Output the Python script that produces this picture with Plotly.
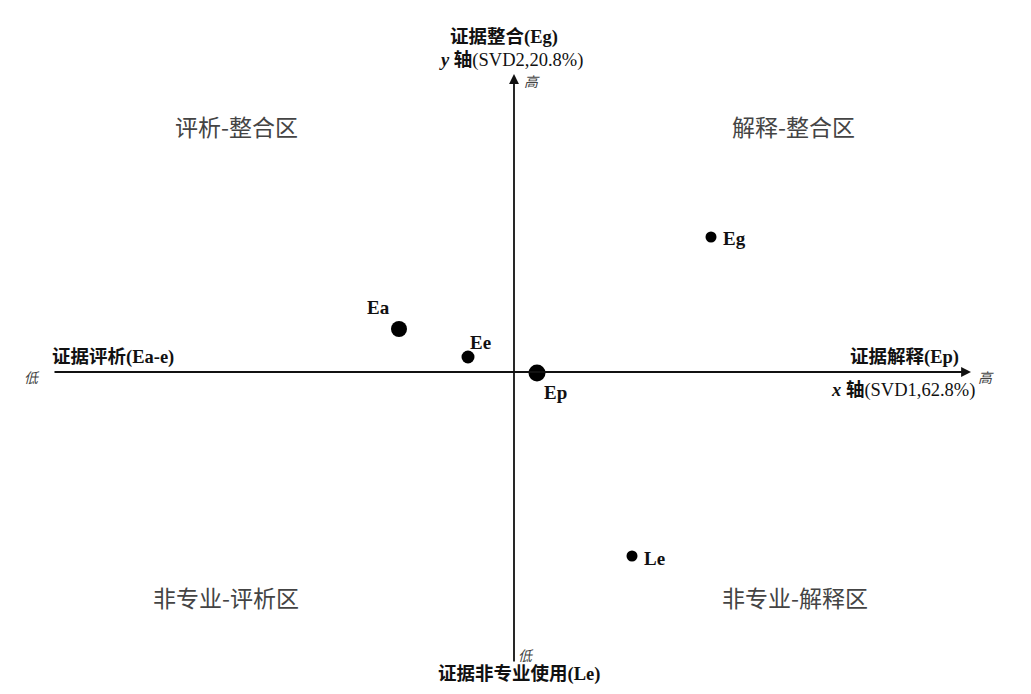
import plotly.graph_objects as go

# point scores (axis units, origin at the crossing of the two axes)
names = ["Ea", "Ee", "Ep", "Eg", "Le"]
svd1 = [-1.15, -0.46, 0.23, 1.97, 1.18]
svd2 = [0.43, 0.15, -0.01, 1.35, -1.84]
dot_sizes = [16, 13, 17, 11, 11]

quadrants = ["评析-整合区", "解释-整合区", "非专业-评析区", "非专业-解释区"]
quad_x = [-2.78, 2.79, -2.88, 2.81]
quad_y = [2.46, 2.46, -2.25, -2.25]

SERIF = "Liberation Serif, Times New Roman, Noto Sans CJK SC"
SANS = "Noto Sans CJK SC, Noto Sans"


# page pixel -> axis units (page has an 8px body offset)
def X(px):
    return (px - 514) / 100.0


def Y(py):
    return (372 - py) / 100.0


fig = go.Figure()

fig.add_trace(go.Scatter(
    x=svd1, y=svd2, mode="markers",
    marker=dict(size=dot_sizes, color="black", opacity=1, line=dict(width=0)),
    hoverinfo="text", text=names, showlegend=False,
))

# point labels: offsets in pixels
label_off = {"Ea": (-21, 22), "Ee": (12, 15), "Ep": (18, -19), "Eg": (23, -1), "Le": (22, -2)}
for n, x, y in zip(names, svd1, svd2):
    dx, dy = label_off[n]
    fig.add_annotation(x=x, y=y, text="<b>" + n + "</b>", showarrow=False,
                       xshift=dx, yshift=dy,
                       font=dict(family=SERIF, size=19, color="#111111"))

for t, x, y in zip(quadrants, quad_x, quad_y):
    fig.add_annotation(x=x, y=y, text=t, showarrow=False,
                       font=dict(family=SANS, size=23, color="#444444"))

# axes with arrows
fig.add_annotation(x=X(971), y=0, ax=X(53), ay=0, xref="x", yref="y", axref="x", ayref="y",
                   showarrow=True, arrowhead=2, arrowsize=1.1, arrowwidth=1.8, arrowcolor="#111111", text="")
fig.add_annotation(x=0, y=Y(74), ax=0, ay=Y(663), xref="x", yref="y", axref="x", ayref="y",
                   showarrow=True, arrowhead=2, arrowsize=1.1, arrowwidth=1.8, arrowcolor="#111111", text="")

# axis captions
cap = dict(family=SERIF, size=18.5, color="#111111")
small = dict(family=SANS, size=14, color="#444444")
fig.add_annotation(x=X(504), y=Y(37), text="<b>证据整合(Eg)</b>", showarrow=False, font=cap)
fig.add_annotation(x=X(511), y=Y(60), text="<b><i>y</i> 轴</b>(SVD2,20.8%)", showarrow=False, font=cap)
fig.add_annotation(x=X(532), y=Y(81), text="<i>高</i>", showarrow=False, font=small)

fig.add_annotation(x=X(113), y=Y(357), text="<b>证据评析(Ea-e)</b>", showarrow=False, font=cap)
fig.add_annotation(x=X(32), y=Y(377), text="<i>低</i>", showarrow=False, font=small)

fig.add_annotation(x=X(904), y=Y(357), text="<b>证据解释(Ep)</b>", showarrow=False, font=cap)
fig.add_annotation(x=X(903), y=Y(390), text="<b><i>x</i> 轴</b>(SVD1,62.8%)", showarrow=False, font=cap)
fig.add_annotation(x=X(986), y=Y(377), text="<i>高</i>", showarrow=False, font=small)

fig.add_annotation(x=X(526), y=Y(655), text="<i>低</i>", showarrow=False, font=small)
fig.add_annotation(x=X(519), y=Y(674), text="<b>证据非专业使用(Le)</b>", showarrow=False, font=cap)

fig.update_xaxes(range=[X(8), X(1039)], visible=False, fixedrange=True)
fig.update_yaxes(range=[Y(702), Y(8)], visible=False, fixedrange=True)
fig.update_layout(
    width=1031, height=694,
    margin=dict(l=0, r=0, t=0, b=0),
    plot_bgcolor="white", paper_bgcolor="white",
)

fig.write_html("out.html")
